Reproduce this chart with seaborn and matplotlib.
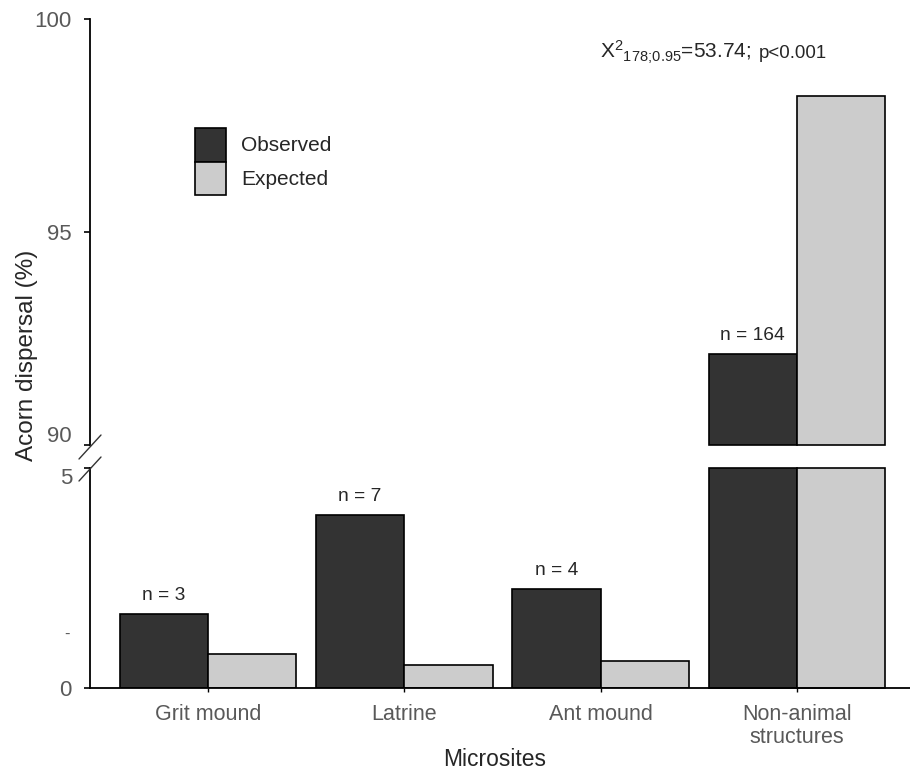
import matplotlib
matplotlib.use("Agg")
import matplotlib.pyplot as plt
import matplotlib.transforms as mtransforms
from matplotlib.lines import Line2D
import pandas as pd
import seaborn as sns

# ---- data -------------------------------------------------------------
sites = ["Grit mound", "Latrine", "Ant mound", "Non-animal\nstructures"]
n_acorns = [3, 7, 4, 164]
total_acorns = 178
observed = [100 * n / total_acorns for n in n_acorns]
expected = [0.78, 0.53, 0.62, 98.2]
series = ["Observed", "Expected"]
colors = ["#333333", "#cccccc"]
top_ticks = [90, 95, 100]
bottom_ticks = [0, 5]
stat_main = r"$X^{2}{}_{178;\!0.95}$=53.74;"
stat_p = "p<0.001"

df = pd.DataFrame({
    "site": sites * 2,
    "series": [series[0]] * len(sites) + [series[1]] * len(sites),
    "pct": observed + expected,
})

# ---- style ------------------------------------------------------------
sns.set_style("ticks")
plt.rcParams["font.family"] = ["Liberation Sans", "DejaVu Sans"]
plt.rcParams["mathtext.default"] = "regular"
TICK_GRAY = "#595959"

W, H = 910, 777
fig = plt.figure(figsize=(W / 100, H / 100), dpi=100)
left = 90 / W
ax_top = fig.add_axes([left, 1 - 445 / H, 1 - left, (445 - 19) / H])
ax_bot = fig.add_axes([left, 1 - 688 / H, 1 - left, (688 - 468) / H])

bar_kws = dict(data=df, x="site", y="pct", hue="series", order=sites,
               hue_order=series, palette=colors, width=0.9, saturation=1,
               edgecolor="black", linewidth=1.2, errorbar=None)
sns.barplot(ax=ax_top, legend=True, **bar_kws)
sns.barplot(ax=ax_bot, legend=False, **bar_kws)

# ---- broken y axis: 90-100 on top, 0-5 below -------------------------
lo_top, hi_top = 90, 100
lo_bot, hi_bot = 0, 5
ax_top.set_ylim(lo_top, hi_top)
ax_bot.set_ylim(lo_bot, hi_bot)
for p in ax_top.patches:
    h = p.get_height()
    if h <= lo_top:
        p.set_visible(False)
    else:
        p.set_y(lo_top)
        p.set_height(h - lo_top)
        p.set_clip_on(False)
for p in ax_bot.patches:
    if p.get_height() > hi_bot:
        p.set_height(hi_bot)
        p.set_clip_on(False)

xlim = (-0.601, 3.576)
for ax in (ax_top, ax_bot):
    ax.set_xlim(*xlim)
    ax.set_xlabel("")
    ax.set_ylabel("")
    for s in ("top", "right"):
        ax.spines[s].set_visible(False)
    for s in ("left", "bottom"):
        ax.spines[s].set_linewidth(1.3)
        ax.spines[s].set_color("black")
    ax.tick_params(axis="y", length=4, width=1.2, pad=9, labelsize=16,
                   labelcolor=TICK_GRAY, color="black", direction="out")

ax_top.spines["bottom"].set_visible(False)
ax_top.tick_params(axis="x", bottom=False, labelbottom=False)
ax_top.set_yticks(top_ticks)
ax_top.set_yticklabels([str(t) for t in top_ticks])
ax_bot.set_yticks(bottom_ticks)
ax_bot.set_yticklabels([str(t) for t in bottom_ticks])
ax_bot.set_xticks(range(len(sites)))
ax_bot.set_xticklabels(sites, linespacing=1.15)
ax_bot.tick_params(axis="x", length=3, width=1, pad=8.5, labelsize=15.5,
                   labelcolor=TICK_GRAY, color="black")


def nudge(label, dy_px):
    label.set_transform(label.get_transform() + mtransforms.ScaledTranslation(
        0, dy_px / fig.dpi, fig.dpi_scale_trans))


nudge(ax_top.get_yticklabels()[0], 11)   # "90" sits above the break
nudge(ax_bot.get_yticklabels()[1], -8)   # "5" sits below the break

# break marks on the y axis
for yc in (447, 469):
    fig.add_artist(Line2D([(90 - 11) / W, (90 + 11) / W],
                          [1 - (yc + 12) / H, 1 - (yc - 12) / H],
                          transform=fig.transFigure, color="#333333", lw=1))

fig.text(67 / W, 1 - 634 / H, "-", color=TICK_GRAY, fontsize=12,
         ha="center", va="center")

# ---- sample size labels above observed bars ---------------------------
for i, (n, v) in enumerate(zip(n_acorns, observed)):
    ax = ax_top if v > hi_bot else ax_bot
    bar = ax.containers[0][i]
    xc = bar.get_x() + bar.get_width() / 2
    ax.annotate(f"n = {n}", xy=(xc, v), xytext=(0, 7),
                textcoords="offset points", ha="center", va="bottom",
                fontsize=13.8, annotation_clip=False)

# ---- legend, labels, statistic ----------------------------------------
sns.move_legend(ax_top, "upper left", bbox_to_anchor=(195 / W, 1 - 128 / H),
                bbox_transform=fig.transFigure, title=None, frameon=False,
                fontsize=15, handlelength=1.5, handleheight=2.1,
                labelspacing=0, handletextpad=0.7, borderpad=0,
                borderaxespad=0)

fig.text(27 / W, 1 - 355 / H, "Acorn dispersal (%)", rotation=90,
         fontsize=17.5, ha="center", va="center")
fig.text(495 / W, 1 - 760 / H, "Microsites", fontsize=16.5,
         ha="center", va="center")
fig.text(600 / W, 1 - 58 / H, stat_main, fontsize=15, ha="left",
         va="baseline")
fig.text(759 / W, 1 - 58 / H, stat_p, fontsize=13.4, ha="left",
         va="baseline")

fig.savefig("out.png", dpi=100)
